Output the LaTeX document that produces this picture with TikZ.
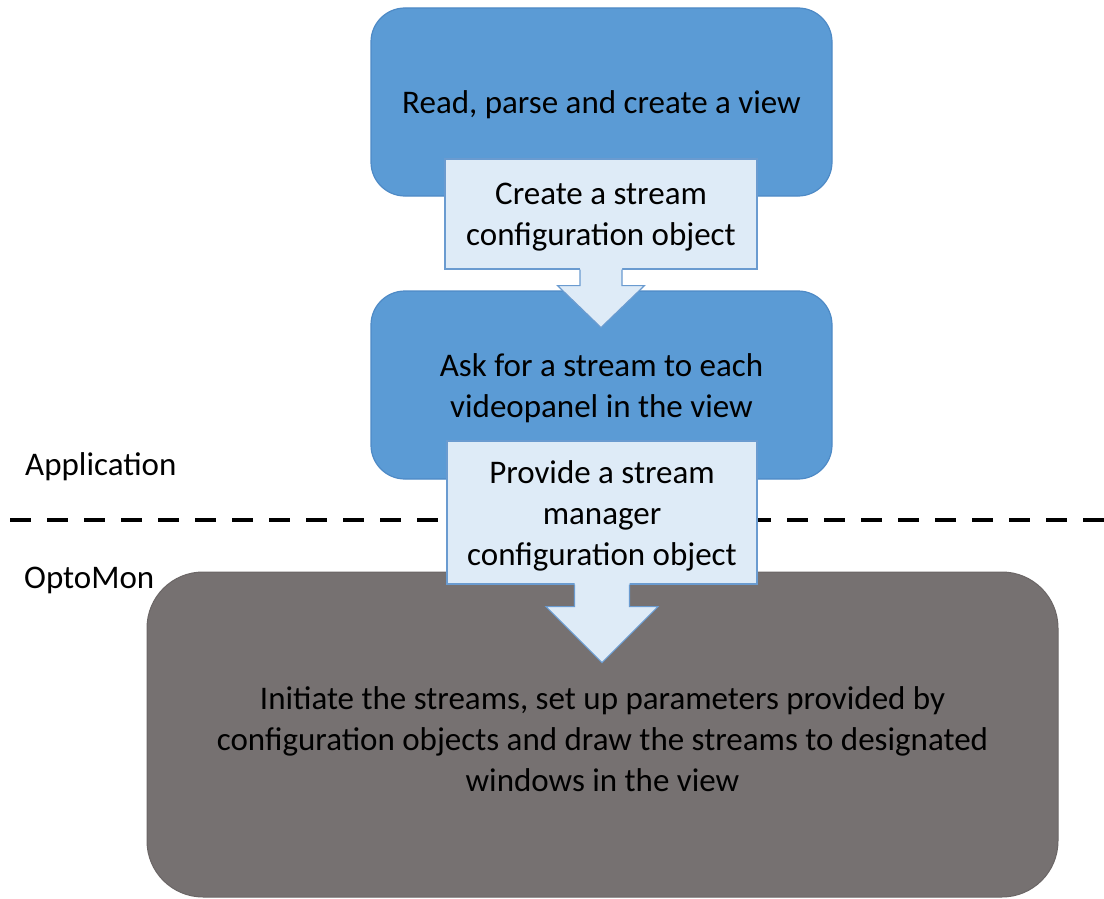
\documentclass[tikz,border=0pt]{standalone}
\usepackage{fontspec}
\setmainfont{Carlito}
\usetikzlibrary{calc}

\definecolor{stepblue}{HTML}{5B9BD5}
\definecolor{stepedge}{HTML}{4E8AC6}
\definecolor{notefill}{HTML}{DEEBF7}
\definecolor{noteedge}{HTML}{6A9BD0}
\definecolor{coregray}{HTML}{767171}
\definecolor{coreedge}{HTML}{6B6666}

\begin{document}
\begin{tikzpicture}[x=1pt, y=-1pt, font=\fontsize{33}{41}\selectfont]
\useasboundingbox (0,0) rectangle (1104,899);
\tikzset{
  stepbox/.style={draw=stepedge, fill=stepblue, line width=1.2pt,
    rounded corners=34pt, minimum width=461pt, minimum height=188pt,
    inner sep=0pt},
  corebox/.style={draw=coreedge, fill=coregray, line width=1pt,
    rounded corners=56pt, minimum width=911pt, minimum height=325pt,
    inner sep=0pt},
  notebox/.style={draw=noteedge, fill=notefill, line width=1.2pt,
    inner sep=0pt},
  notefillarrow/.style={fill=notefill},
  noteoutline/.style={draw=noteedge, line width=1.2pt, line join=miter},
  layerline/.style={draw=black, line width=4.5pt, dash pattern=on 21pt off 16pt},
  layerlabel/.style={anchor=base west, inner sep=0pt, text=black},
  boxtext/.style={align=center, inner sep=0pt, text=black}
}

% application steps
\node[stepbox] (read) at (601.5,102) {};
\node[boxtext] (readtxt) at ($(read.center)+(0,3)$) {Read, parse and create a view};
\node[stepbox] (ask) at (601.5,385) {};
\node[boxtext] (asktxt) at ($(ask.center)+(0,3)$) {Ask for a stream to each\\videopanel in the view};

% boundary between the two layers
\coordinate (lineL) at (10,520);
\coordinate (lineR) at (1104,520);
\draw[layerline] (lineL) -- (lineR);
\node[layerlabel] (app) at (25,475) {Application};
\node[layerlabel] (opto) at (24,588) {OptoMon};

% OptoMon stage
\node[corebox] (core) at (602.5,734.5) {};
\node[boxtext] (coretxt) at ($(core.center)+(0,5)$)
  {Initiate the streams, set up parameters provided by\\configuration objects and draw the streams to designated\\windows in the view};

% first hand-over: stream configuration object
\node[notebox, minimum width=312pt, minimum height=110pt] (cfg) at (601,214) {};
\coordinate (cfgtip) at ($(cfg.south)+(0,58)$);
\fill[notefillarrow] ($(cfg.south)+(-21,-2)$) -- ($(cfg.south)+(-21,16)$)
  -- ($(cfg.south)+(-43.5,16)$) -- (cfgtip) -- ($(cfg.south)+(43.5,16)$)
  -- ($(cfg.south)+(21,16)$) -- ($(cfg.south)+(21,-2)$) -- cycle;
\draw[noteoutline] ($(cfg.south)+(-21,0)$) -- ($(cfg.south)+(-21,16)$)
  -- ($(cfg.south)+(-43.5,16)$) -- (cfgtip) -- ($(cfg.south)+(43.5,16)$)
  -- ($(cfg.south)+(21,16)$) -- ($(cfg.south)+(21,0)$);
\node[boxtext] (cfgtxt) at ($(cfg.center)+(0,3.5)$) {Create a stream\\configuration object};

% second hand-over: stream manager configuration object
\node[notebox, minimum width=310pt, minimum height=143pt] (mgr) at (602,512.5) {};
\coordinate (mgrtip) at ($(mgr.south)+(0,78)$);
\fill[notefillarrow] ($(mgr.south)+(-27.5,-2)$) -- ($(mgr.south)+(-27.5,22)$)
  -- ($(mgr.south)+(-56,22)$) -- (mgrtip) -- ($(mgr.south)+(56,22)$)
  -- ($(mgr.south)+(27.5,22)$) -- ($(mgr.south)+(27.5,-2)$) -- cycle;
\draw[noteoutline] ($(mgr.south)+(-27.5,0)$) -- ($(mgr.south)+(-27.5,22)$)
  -- ($(mgr.south)+(-56,22)$) -- (mgrtip) -- ($(mgr.south)+(56,22)$)
  -- ($(mgr.south)+(27.5,22)$) -- ($(mgr.south)+(27.5,0)$);
\node[boxtext] (mgrtxt) at ($(mgr.center)+(0,3.5)$) {Provide a stream\\manager\\configuration object};
\end{tikzpicture}
\end{document}
